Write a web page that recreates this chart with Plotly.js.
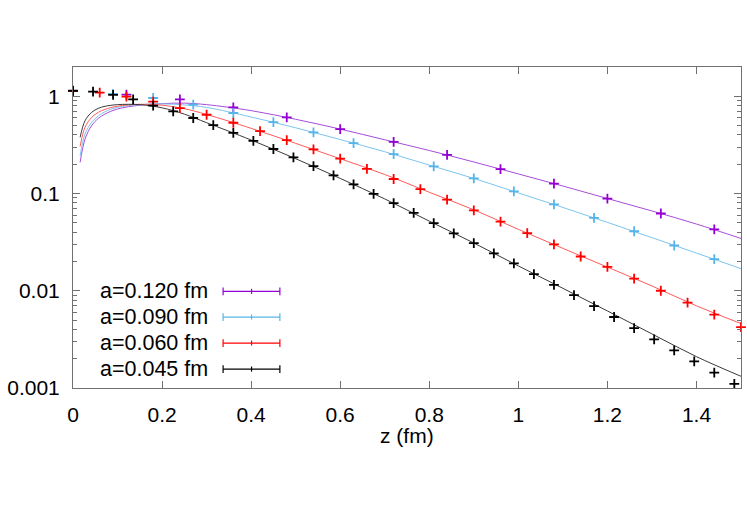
<!DOCTYPE html>
<html>
<head>
<meta charset="utf-8">
<script src="https://cdn.plot.ly/plotly-3.0.1.min.js"></script>
<style>
  html, body { margin: 0; padding: 0; background: #fff; }
  #chart { width: 747px; height: 528px; }
</style>
</head>
<body>
<div id="chart"></div>
<script>
// lattice data, one set per lattice spacing
var names = ['a=0.120 fm', 'a=0.090 fm', 'a=0.060 fm', 'a=0.045 fm'];
var colors = ['#9400d3', '#56b4e9', '#ff0000', '#000000'];
var curveColors = ['#a64dd9', '#7cc4ee', '#ff5a5a', '#3a3a3a'];

var zPurple = [0, 0.12, 0.24, 0.36, 0.48, 0.60, 0.72, 0.84, 0.96, 1.08, 1.20, 1.32, 1.44];
var yPurple = [1.13, 1.04, 0.93, 0.77, 0.607, 0.46, 0.34, 0.25, 0.178, 0.1266, 0.0888, 0.0623, 0.0428];

var zBlue = [0, 0.09, 0.18, 0.27, 0.36, 0.45, 0.54, 0.63, 0.72, 0.81, 0.90, 0.99, 1.08, 1.17, 1.26, 1.35, 1.44];
var yBlue = [1.13, 1.06, 0.96, 0.82, 0.673, 0.543, 0.425, 0.33, 0.254, 0.19, 0.143, 0.105, 0.0772, 0.0561, 0.0409, 0.0292, 0.0211];

var zRed = [0, 0.06, 0.12, 0.18, 0.24, 0.30, 0.36, 0.42, 0.48, 0.54, 0.60, 0.66, 0.72, 0.78, 0.84,
            0.90, 0.96, 1.02, 1.08, 1.14, 1.20, 1.26, 1.32, 1.38, 1.44, 1.50];
var yRed = [1.13, 1.09, 0.99, 0.88, 0.757, 0.646, 0.534, 0.439, 0.354, 0.284, 0.228, 0.179, 0.141, 0.111, 0.0866,
            0.0672, 0.0513, 0.0391, 0.030, 0.0225, 0.0176, 0.0133, 0.0100, 0.00754, 0.00568, 0.00423];

var zBlack = [0, 0.045, 0.09, 0.135, 0.18, 0.225, 0.27, 0.315, 0.36, 0.405, 0.45, 0.495, 0.54, 0.585, 0.63, 0.675, 0.72,
              0.765, 0.81, 0.855, 0.90, 0.945, 0.99, 1.035, 1.08, 1.125, 1.17, 1.215, 1.26, 1.305, 1.35, 1.395, 1.44, 1.485];
var yBlack = [1.14, 1.115, 1.035, 0.93, 0.80, 0.70, 0.598, 0.506, 0.42, 0.348, 0.287, 0.235, 0.191, 0.154, 0.124, 0.099, 0.0795,
              0.0631, 0.0495, 0.039, 0.0309, 0.0242, 0.0191, 0.0148, 0.0115, 0.0090, 0.00696, 0.00537, 0.00413, 0.00317, 0.00244, 0.00188, 0.00144, 0.0011];

// fitted curves, sampled off the figure
var zFit = [0.016, 0.027, 0.042, 0.057, 0.072, 0.10, 0.15, 0.20, 0.25, 0.30, 0.40, 0.50, 0.60, 0.70, 0.80,
            0.90, 1.00, 1.10, 1.20, 1.30, 1.40, 1.50];
var fitPurple = [0.209, 0.363, 0.50, 0.593, 0.657, 0.74, 0.81, 0.84, 0.85, 0.82, 0.712, 0.58, 0.46, 0.357, 0.277,
                 0.211, 0.159, 0.1194, 0.0888, 0.0662, 0.0485, 0.0345];
var fitBlue = [0.244, 0.409, 0.54, 0.63, 0.694, 0.77, 0.82, 0.835, 0.815, 0.768, 0.612, 0.474, 0.359, 0.269, 0.196,
               0.143, 0.1014, 0.0719, 0.0505, 0.0352, 0.0244, 0.0169];
var fitRed = [0.305, 0.48, 0.607, 0.684, 0.734, 0.79, 0.827, 0.81, 0.745, 0.65, 0.468, 0.328, 0.228, 0.157, 0.103,
              0.068, 0.0428, 0.0273, 0.0175, 0.0112, 0.0070, 0.0046];
var fitBlack = [0.378, 0.56, 0.684, 0.752, 0.789, 0.82, 0.82, 0.76, 0.655, 0.535, 0.355, 0.228, 0.143, 0.088, 0.052,
                0.031, 0.018, 0.0106, 0.0062, 0.0036, 0.0021, 0.00132];

var points = [[zPurple, yPurple], [zBlue, yBlue], [zRed, yRed], [zBlack, yBlack]];
var fits = [fitPurple, fitBlue, fitRed, fitBlack];

var fontFamily = 'Liberation Sans, Arial, sans-serif';
var data = [];

// curves first so the crosses sit on top
for (var i = 0; i < fits.length; i++)
{
    data.push({
        x: zFit,
        y: fits[i],
        type: 'scatter',
        mode: 'lines',
        line: {color: curveColors[i], width: 1, shape: 'spline'},
        showlegend: false,
        hoverinfo: 'skip'
    });
}

// points at z=0 and z=1.5 sit on the frame, so don't clip them
for (var i = 0; i < points.length; i++)
{
    data.push({
        x: points[i][0],
        y: points[i][1],
        type: 'scatter',
        mode: 'markers',
        name: names[i],
        cliponaxis: false,
        marker: {symbol: 'cross-thin', size: 7, color: colors[i], line: {color: colors[i], width: 1.8}},
        error_y: {type: 'percent', value: 2, thickness: 1.6, width: 0, color: colors[i]},
        showlegend: false
    });
}

// minor ticks for the log axis
var minorY = [];
for (var d = -3; d < 1; d++)
{
    for (var k = 2; k <= 9; k++)
    {
        var v = k * Math.pow(10, d);
        if (v <= 2) minorY.push(v);
    }
}

// gnuplot style key: text on the left, error bar sample on the right
var keyY = [0.301, 0.221, 0.140, 0.059];
var annotations = [];
var shapes = [];
for (var i = 0; i < names.length; i++)
{
    annotations.push({
        xref: 'paper', yref: 'paper',
        x: 0.205, y: keyY[i],
        xanchor: 'right', yanchor: 'middle',
        text: names[i],
        showarrow: false,
        font: {family: fontFamily, size: 21.5, color: '#000'}
    });
    var lineStyle = {color: colors[i], width: 1.2};
    shapes.push({type: 'line', xref: 'paper', yref: 'paper', x0: 0.2247, x1: 0.3097, y0: keyY[i], y1: keyY[i], line: lineStyle});
    shapes.push({type: 'line', xref: 'paper', yref: 'paper', x0: 0.2247, x1: 0.2247, y0: keyY[i] - 0.012, y1: keyY[i] + 0.012, line: lineStyle});
    shapes.push({type: 'line', xref: 'paper', yref: 'paper', x0: 0.3097, x1: 0.3097, y0: keyY[i] - 0.012, y1: keyY[i] + 0.012, line: lineStyle});
    shapes.push({type: 'line', xref: 'paper', yref: 'paper', x0: 0.2673, x1: 0.2673, y0: keyY[i] - 0.008, y1: keyY[i] + 0.008, line: lineStyle});
}

// x axis title placed like gnuplot's xlabel
annotations.push({
    xref: 'paper', yref: 'paper',
    x: 0.5, y: -0.147,
    xanchor: 'center', yanchor: 'middle',
    text: 'z (fm)',
    showarrow: false,
    font: {family: fontFamily, size: 21, color: '#000'}
});

var axisColor = '#707070';

var layout = {
    width: 747,
    height: 528,
    paper_bgcolor: '#ffffff',
    plot_bgcolor: '#ffffff',
    margin: {l: 73, r: 6, t: 67, b: 140, autoexpand: false},
    font: {family: fontFamily, size: 21, color: '#000'},
    showlegend: false,
    xaxis: {
        range: [0, 1.5],
        tickvals: [0, 0.2, 0.4, 0.6, 0.8, 1, 1.2, 1.4],
        ticktext: ['0', '0.2', '0.4', '0.6', '0.8', '1', '1.2', '1.4'],
        ticks: 'inside',
        ticklen: 7,
        tickwidth: 1,
        tickcolor: axisColor,
        ticklabelstandoff: 8,
        showline: true,
        linecolor: axisColor,
        linewidth: 1,
        mirror: 'ticks',
        showgrid: false,
        zeroline: false
    },
    yaxis: {
        type: 'log',
        range: [-3, Math.log10(2)],
        tickvals: [0.001, 0.01, 0.1, 1],
        ticktext: ['0.001', '0.01', '0.1', '1'],
        ticks: 'inside',
        ticklen: 7,
        tickwidth: 1,
        tickcolor: axisColor,
        ticklabelstandoff: 8,
        minor: {tickmode: 'array', tickvals: minorY, ticks: 'inside', ticklen: 4, tickcolor: axisColor, showgrid: false},
        showline: true,
        linecolor: axisColor,
        linewidth: 1,
        mirror: 'ticks',
        showgrid: false,
        zeroline: false
    },
    annotations: annotations,
    shapes: shapes
};

var config = {displayModeBar: false, responsive: false};

Plotly.newPlot('chart', data, layout, config);
</script>
</body>
</html>
